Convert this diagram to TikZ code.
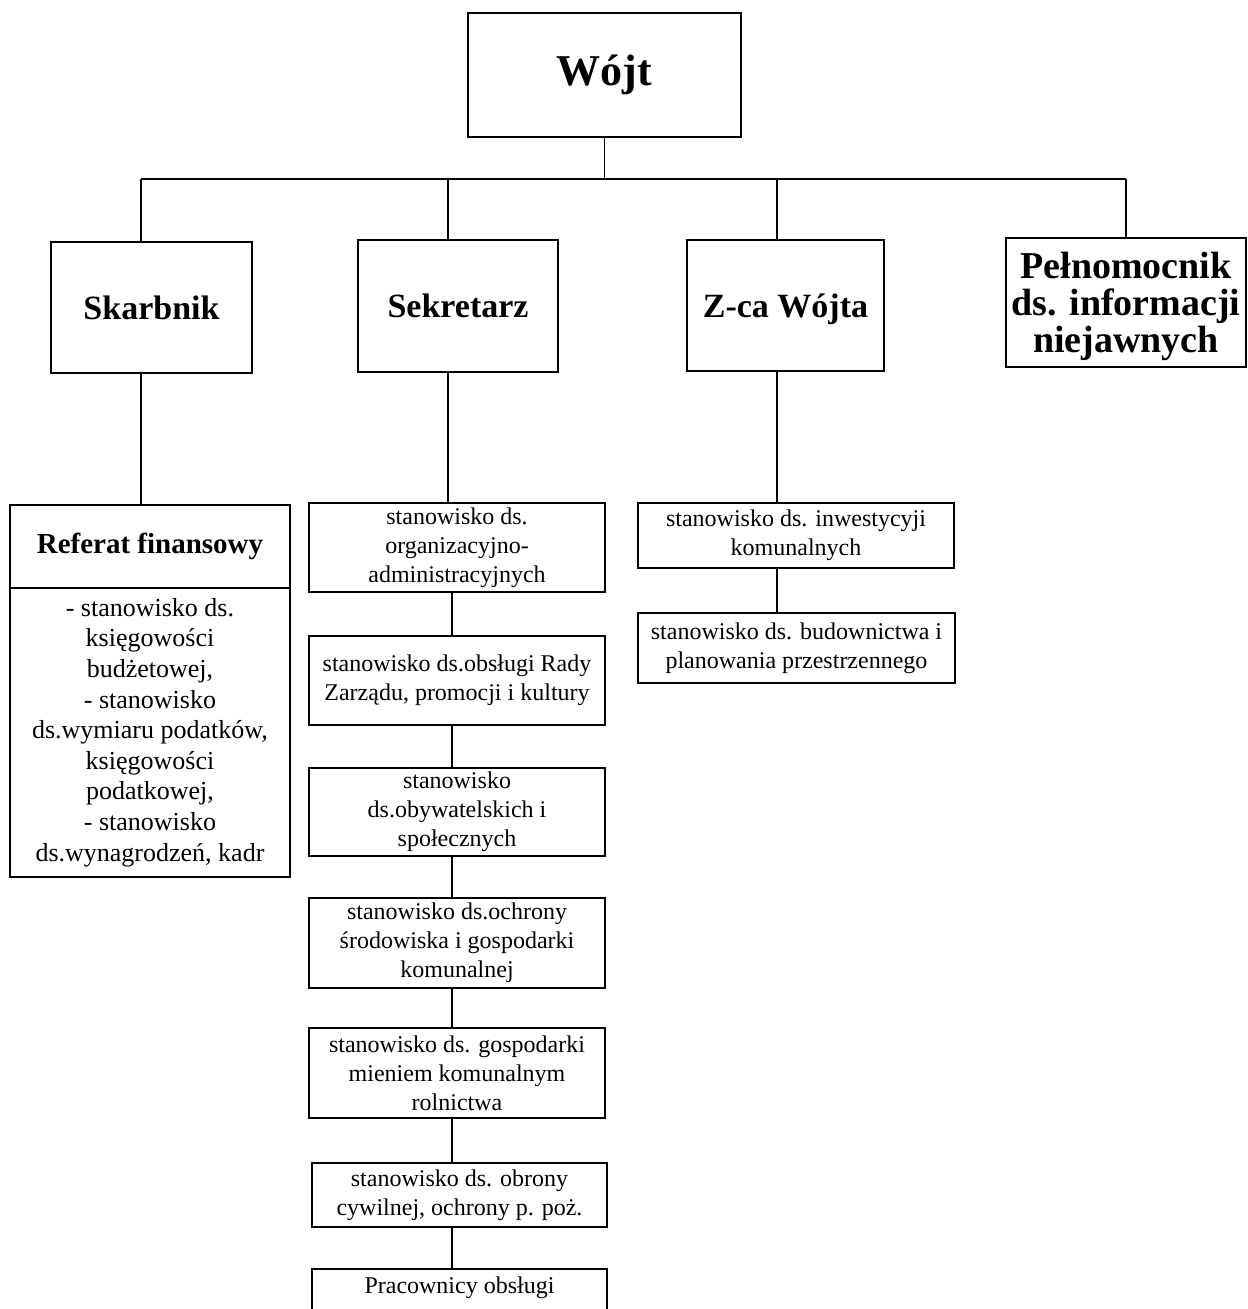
\documentclass[tikz,border=0pt]{standalone}
\usepackage{fontspec}
\setmainfont{Liberation Serif}
\usetikzlibrary{positioning,calc}

\begin{document}
\begin{tikzpicture}[x=0.5pt,y=-0.5pt,
    box/.style={draw, line width=1.1pt, inner sep=2pt, align=center},
    head/.style={box, font=\bfseries\fontsize{17}{19}\selectfont},
    post/.style={box, font=\fontsize{12}{14.5}\selectfont},
    link/.style={line width=0.6pt}]
    \useasboundingbox (0,0) rectangle (1247,1309);
    \clip (0,0) rectangle (1247,1309);

      \node(wojt) at (604.5,75) [box, minimum width=136.5pt, minimum height=62pt,
         font=\bfseries\fontsize{22}{24}\selectfont] {Wójt};

      \node(skarb) at (151.5,307.5) [head, minimum width=100.5pt, minimum height=65.5pt] {Skarbnik};
      \node(sekr) at (458,306) [head, minimum width=100pt, minimum height=66pt] {Sekretarz};
      \node(zca) at (785.5,305.5) [head, minimum width=98.5pt, minimum height=65.5pt, text depth=0pt] {Z-ca Wójta};
      \node(pelnom) at (1126,302.5) [head, minimum width=120pt, minimum height=64.5pt, text depth=0pt,
         font=\bfseries\fontsize{19}{18.5}\selectfont] {Pełnomocnik\\ds. informacji\\niejawnych};

      % referat finansowy
      \node(ref) at (150,546.5) [box, minimum width=140pt, minimum height=41.5pt,
         font=\bfseries\fontsize{14.5}{17}\selectfont] {Referat finansowy};
      \node(refbody) at (150,732.5) [box, minimum width=140pt, minimum height=144.5pt,
         font=\fontsize{13}{15.3}\selectfont]
         {- stanowisko ds.\\księgowości\\budżetowej,\\- stanowisko\\ds.wymiaru podatków,\\księgowości\\podatkowej,\\- stanowisko\\ds.wynagrodzeń, kadr};

      % stanowiska sekretarza
      \node(s1) at (457,547.5) [post, minimum width=148pt, minimum height=44.5pt] {stanowisko ds.\\organizacyjno-\\administracyjnych};
      \node(s2) at (457,680.5) [post, minimum width=148pt, minimum height=44.5pt] {stanowisko ds.obsługi Rady\\Zarządu, promocji i kultury};
      \node(s3) at (457,812) [post, minimum width=148pt, minimum height=44pt] {stanowisko\\ds.obywatelskich i\\społecznych};
      \node(s4) at (457,943) [post, minimum width=148pt, minimum height=45pt] {stanowisko ds.ochrony\\środowiska i gospodarki\\komunalnej};
      \node(s5) at (457,1073) [post, minimum width=148pt, minimum height=45pt] {stanowisko ds. gospodarki\\mieniem komunalnym\\rolnictwa};
      \node(s6) at (459.5,1195) [post, minimum width=147.5pt, minimum height=32pt] {stanowisko ds. obrony\\cywilnej, ochrony p. poż.};
      \node(s7) at (459.5,1268) [post, anchor=north, minimum width=147.5pt, inner ysep=4pt, text depth=30pt] {Pracownicy obsługi};

      % stanowiska zastepcy
      \node(z1) at (796,535.5) [post, minimum width=158pt, minimum height=32.5pt] {stanowisko ds. inwestycyji\\komunalnych};
      \node(z2) at (796.5,648) [post, minimum width=158.5pt, minimum height=35pt] {stanowisko ds. budownictwa i\\planowania przestrzennego};

      \coordinate (jskarb) at (141,179);
      \coordinate (jsekr) at (448,179);
      \coordinate (jzca) at (777,179);
      \coordinate (jpel) at (1126,179);
      \coordinate (spine) at (452,0);

    \draw[link] (wojt.south) -- (wojt.south |- jsekr);
    \draw[link] (jskarb) -- (jpel);
    \draw[link] (jskarb) -- (jskarb |- skarb.north);
    \draw[link] (jsekr) -- (jsekr |- sekr.north);
    \draw[link] (jzca) -- (jzca |- zca.north);
    \draw[link] (jpel) -- (pelnom.north);

    \draw[link] (jskarb |- skarb.south) -- (jskarb |- ref.north);
    \draw[link] (jsekr |- sekr.south) -- (jsekr |- s1.north);
    \draw[link] (jzca |- zca.south) -- (jzca |- z1.north);
    \draw[link] (jzca |- z1.south) -- (jzca |- z2.north);

    \draw[link] (spine |- s1.south) -- (spine |- s2.north);
    \draw[link] (spine |- s2.south) -- (spine |- s3.north);
    \draw[link] (spine |- s3.south) -- (spine |- s4.north);
    \draw[link] (spine |- s4.south) -- (spine |- s5.north);
    \draw[link] (spine |- s5.south) -- (spine |- s6.north);
    \draw[link] (spine |- s6.south) -- (spine |- s7.north);
  \end{tikzpicture}
\end{document}
